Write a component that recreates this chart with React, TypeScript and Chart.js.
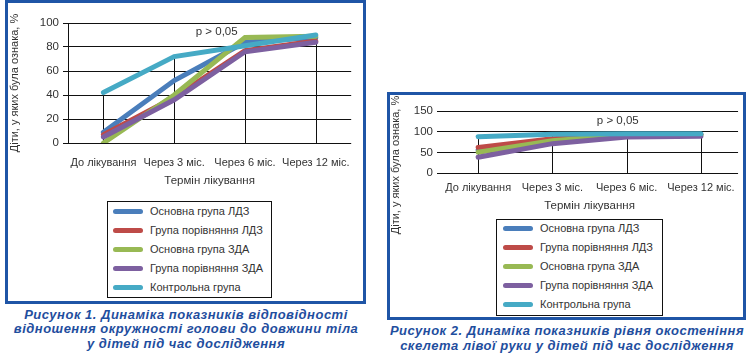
import React, { useEffect, useRef } from "react";
import { Chart, registerables } from "chart.js";

Chart.register(...registerables);

// ---------- data ----------
const categories = ["До лікування", "Через 3 міс.", "Через 6 міс.", "Через 12 міс."];
const seriesNames = [
  "Основна група ЛДЗ",
  "Група порівняння ЛДЗ",
  "Основна група ЗДА",
  "Група порівняння ЗДА",
  "Контрольна група",
];
const seriesColors = ["#4a7ebb", "#be4b48", "#98b954", "#7d60a0", "#46aac5"];

// Figure 1
const fig1MainLdz = [9, 52, 84, 88];
const fig1CompLdz = [7, 38, 77, 85];
const fig1MainZda = [0, 40, 88, 89];
const fig1CompZda = [5, 36, 76, 84];
const fig1Control = [42, 72, 81, 90];
const fig1YTicks = [0, 20, 40, 60, 80, 100];

// Figure 2
const fig2MainLdz = [55, 80, 92, 93];
const fig2CompLdz = [62, 83, 92, 93];
const fig2MainZda = [50, 78, 92, 92];
const fig2CompZda = [38, 71, 87, 89];
const fig2Control = [88, 94, 95, 95];
const fig2YTicks = [0, 50, 100, 150];

const yTitleText = "Діти, у яких була ознака, %";
const xTitleText = "Термін лікування";
const pText = "p > 0,05";

const caption1 = [
  "Рисунок 1. Динаміка показників відповідності",
  "відношення окружності голови до довжини тіла",
  "у дітей під час дослідження",
];
const caption2 = [
  "Рисунок 2. Динаміка показників рівня окостеніння",
  "скелета лівої руки у дітей під час дослідження",
];

const FONT = "'Liberation Sans', Arial, sans-serif";
const TEXT = "#333333";
const FRAME = "#1f55a6";

type ChartProps = {
  series: number[][];
  yTicks: number[];
  width: number;
  height: number;
  pad: { left: number; right: number; top: number; bottom: number };
  yWidth: number;
  xHeight: number;
  tickLen: number;
  tickPad: number;
  xTickPad: number;
  yBorder: boolean;
  builtinYTitle: boolean;
  yTitlePos?: { x: number; y: number };
  pLabel: { index: number; value: number };
};

function LineChart(props: ChartProps) {
  const ref = useRef<HTMLCanvasElement | null>(null);
  useEffect(() => {
    if (!ref.current) return;
    const yMax = props.yTicks[props.yTicks.length - 1];
    const step = props.yTicks[1] - props.yTicks[0];

    const dropLines = {
      id: "dropLines",
      beforeDatasetsDraw(chart: any) {
        const { ctx } = chart;
        const xs = chart.scales.x;
        const ys = chart.scales.y;
        ctx.save();
        ctx.strokeStyle = "#111";
        ctx.lineWidth = 1;
        categories.forEach((_, i) => {
          const max = Math.max(...props.series.map((s) => s[i]));
          const px = Math.round(xs.getPixelForValue(i)) + 0.5;
          ctx.beginPath();
          ctx.moveTo(px, ys.getPixelForValue(max));
          ctx.lineTo(px, ys.getPixelForValue(0));
          ctx.stroke();
        });
        ctx.restore();
      },
    };
    const textPlugin = {
      id: "textPlugin",
      afterDatasetsDraw(chart: any) {
        const { ctx } = chart;
        const xs = chart.scales.x;
        const ys = chart.scales.y;
        ctx.save();
        ctx.fillStyle = TEXT;
        ctx.font = `11.5px ${FONT}`;
        ctx.textAlign = "center";
        ctx.textBaseline = "middle";
        ctx.fillText(pText, xs.getPixelForValue(props.pLabel.index), ys.getPixelForValue(props.pLabel.value));
        if (!props.builtinYTitle && props.yTitlePos) {
          ctx.translate(props.yTitlePos.x, props.yTitlePos.y);
          ctx.rotate(-Math.PI / 2);
          ctx.font = `11px ${FONT}`;
          ctx.fillText(yTitleText, 0, 0);
        }
        ctx.restore();
      },
    };

    const chart = new Chart(ref.current, {
      type: "line",
      data: {
        labels: categories,
        datasets: props.series.map((d, i) => ({
          label: seriesNames[i],
          data: d,
          borderColor: seriesColors[i],
          backgroundColor: seriesColors[i],
          borderWidth: 5,
          borderCapStyle: "round",
          pointRadius: 0,
          tension: 0,
          order: props.series.length - i,
        })),
      },
      options: {
        animation: false,
        responsive: true,
        maintainAspectRatio: false,
        layout: { padding: props.pad },
        plugins: { legend: { display: false }, tooltip: { enabled: false } },
        scales: {
          x: {
            offset: true,
            grid: { display: false, drawTicks: false },
            border: { display: false },
            ticks: { color: TEXT, font: { family: FONT, size: 11 }, padding: props.xTickPad, maxRotation: 0, autoSkip: false },
            title: { display: true, text: xTitleText, color: TEXT, font: { family: FONT, size: 11.5 }, padding: 0 },
            afterFit: (s: any) => {
              s.height = props.xHeight;
            },
          },
          y: {
            min: 0,
            max: yMax,
            ticks: { stepSize: step, color: TEXT, font: { family: FONT, size: 11.5 }, padding: props.tickPad },
            grid: { color: "#111", lineWidth: 1, tickLength: props.tickLen, drawTicks: true },
            border: { display: props.yBorder, color: "#111", width: 1 },
            title: {
              display: props.builtinYTitle,
              text: yTitleText,
              color: TEXT,
              font: { family: FONT, size: 11 },
              padding: 0,
            },
            afterFit: (s: any) => {
              s.width = props.yWidth;
            },
          },
        },
      },
      plugins: [dropLines, textPlugin],
    } as any);
    return () => chart.destroy();
  }, []);
  return (
    <div style={{ position: "relative", width: props.width, height: props.height }}>
      <canvas ref={ref} />
    </div>
  );
}

function Legend(props: { left: number; top: number; width: number; height: number; firstRow: number; markerLeft: number; markerWidth: number }) {
  return (
    <div
      style={{
        position: "absolute",
        left: props.left,
        top: props.top,
        width: props.width,
        height: props.height,
        border: "1px solid #111",
        boxSizing: "border-box",
        background: "#fff",
      }}
    >
      {seriesNames.map((n, i) => (
        <div
          key={n}
          style={{
            position: "absolute",
            left: props.markerLeft,
            top: props.firstRow + i * 19 - 7,
            height: 14,
            display: "flex",
            alignItems: "center",
            whiteSpace: "nowrap",
          }}
        >
          <span
            style={{
              display: "inline-block",
              width: props.markerWidth,
              height: 5,
              borderRadius: 3,
              background: seriesColors[i],
            }}
          />
          <span style={{ marginLeft: 7, font: `11px ${FONT}`, color: TEXT }}>{n}</span>
        </div>
      ))}
    </div>
  );
}

function Caption(props: { lines: string[]; center: number; top: number; width: number }) {
  return (
    <div
      style={{
        position: "absolute",
        left: props.center - props.width / 2,
        top: props.top,
        width: props.width,
        textAlign: "center",
        font: `italic bold 13px ${FONT}`,
        letterSpacing: "0.5px",
        lineHeight: "14.7px",
        color: "#1f4e9e",
        whiteSpace: "nowrap",
      }}
    >
      {props.lines.map((l) => (
        <div key={l}>{l}</div>
      ))}
    </div>
  );
}

export default function App() {
  return (
    <div style={{ position: "fixed", left: 0, top: 0, width: 749, height: 360, background: "#fff", overflow: "hidden" }}>
      {/* Figure 1 frame */}
      <div style={{ position: "absolute", left: 5, top: 0, width: 361, height: 304, border: `3px solid ${FRAME}`, boxSizing: "border-box" }} />
      <div style={{ position: "absolute", left: 8, top: 3 }}>
        <LineChart
          series={[fig1MainLdz, fig1CompLdz, fig1MainZda, fig1CompZda, fig1Control]}
          yTicks={fig1YTicks}
          width={355}
          height={298}
          pad={{ left: 0, right: 4, top: 20, bottom: 113 }}
          yWidth={60}
          xHeight={45}
          tickLen={5}
          tickPad={4}
          xTickPad={13}
          yBorder={true}
          builtinYTitle={true}
          pLabel={{ index: 1.6, value: 93 }}
        />
      </div>
      <Legend left={107} top={201} width={165} height={97} firstRow={9} markerLeft={5} markerWidth={30} />
      <Caption lines={caption1} center={186} top={307.5} width={370} />

      {/* Figure 2 frame */}
      <div style={{ position: "absolute", left: 387, top: 92, width: 359, height: 228, border: `3px solid ${FRAME}`, boxSizing: "border-box" }} />
      <div style={{ position: "absolute", left: 390, top: 95 }}>
        <LineChart
          series={[fig2MainLdz, fig2CompLdz, fig2MainZda, fig2CompZda, fig2Control]}
          yTicks={fig2YTicks}
          width={353}
          height={222}
          pad={{ left: 0, right: 3, top: 16, bottom: 104 }}
          yWidth={51}
          xHeight={40}
          tickLen={4}
          tickPad={4}
          xTickPad={8}
          yBorder={false}
          builtinYTitle={false}
          yTitlePos={{ x: 6, y: 70 }}
          pLabel={{ index: 1.88, value: 126 }}
        />
      </div>
      <Legend left={496} top={219} width={167} height={97} firstRow={8} markerLeft={6} markerWidth={30} />
      <Caption lines={caption2} center={567} top={324.3} width={370} />
    </div>
  );
}
